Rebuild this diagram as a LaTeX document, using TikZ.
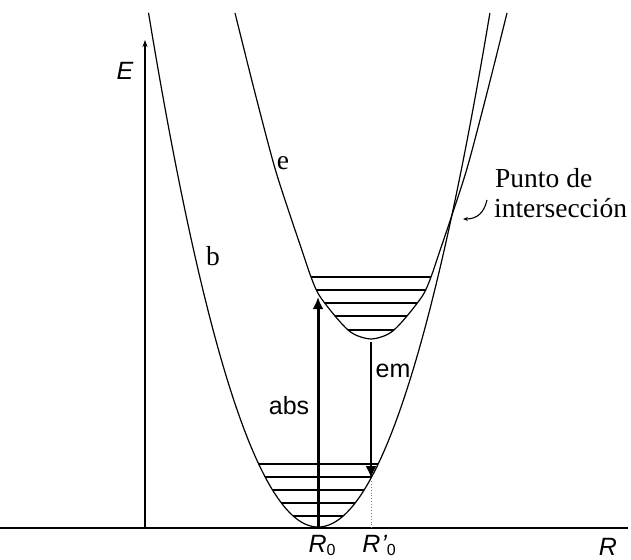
\documentclass[tikz,border=0pt]{standalone}
\usepackage{fontspec}
\setmainfont{Liberation Serif}
\setsansfont{Liberation Sans}
\usetikzlibrary{arrows.meta}
\newcommand{\lowsub}[1]{\raisebox{-3pt}{\fontsize{16}{16}\selectfont\upshape #1}}
\begin{document}
\begin{tikzpicture}[x=1pt,y=-1pt,
  curve/.style={line width=1.2pt},
  lvl/.style={line width=1.1pt},
  axis/.style={line width=1.3pt},
  sanslbl/.style={font=\sffamily\fontsize{25}{28}\selectfont, inner sep=0pt},
  seriflbl/.style={font=\rmfamily\fontsize{27.5}{30}\selectfont, inner sep=0pt},
]
\useasboundingbox (0,0) rectangle (631,559);
% axes
\coordinate (bl) at (0,528);
\coordinate (br) at (628,528);
\draw[axis] (bl) -- (br);
\coordinate (eo) at (145,528);
\coordinate (et) at (145,40);
\draw[axis,-{Stealth[length=7pt,width=5pt]}] (eo) -- (et);
% ground state curve b
\draw[curve] plot[domain=148.5:318, samples=90] (\x,{527-0.0179*(\x-318)*(\x-318)})
  -- plot[domain=318:489.9, samples=90] (\x,{527-0.0174*(\x-318)*(\x-318)});
% excited state curve e
\draw[curve] plot[smooth] coordinates {(235,13) (254,89) (274,165) (289,212) (301.5,249) (311,277) (319,295) (335,316) (348,330) (358,336) (371,339) (384,336) (394,330) (407,316) (423,295) (431,277) (440.5,249) (453,212) (468,165) (488,89) (507,13)};
% vibrational levels, ground
\foreach \yy/\l/\r in {464/258.7/378.2, 477/265.2/371.6, 490/272.5/364.1, 503/281.4/355.1, 516/293.2/343.1}
  \draw[lvl] (\l,\yy) -- (\r,\yy);
% vibrational levels, excited
\foreach \yy/\l/\r in {277/311/431, 290/316/426, 303/325/417, 316/335/407, 330/348/394}
  \draw[lvl] (\l,\yy) -- (\r,\yy);
% absorption
\coordinate (absS) at (318,528);
\coordinate (absE) at (318,297);
\draw[line width=3pt,-{Latex[length=12pt,width=11pt]}] (absS) -- (absE);
% emission
\coordinate (emS) at (371,342);
\coordinate (emE) at (371,478);
\coordinate (emB) at (371,528);
\draw[line width=2pt,-{Latex[length=12pt,width=11pt]}] (emS) -- (emE);
\draw[gray,dotted,line width=0.9pt] (emE) -- (emB);
% hook arrow to intersection
\coordinate (hk1) at (487,200);
\coordinate (hk2) at (463,219);
\draw[line width=1.1pt,-{Stealth[length=5pt,width=4pt]}] (hk1) .. controls (484,213) and (477,219) .. (hk2);
% labels
\node[sanslbl] (lE) at (125,71) {\itshape E};
\node[seriflbl] (le) at (283,163) {e};
\node[seriflbl] (lb) at (213,256) {b};
\node[sanslbl] (labs) at (289,406) {abs};
\node[sanslbl] (lem) at (393,371) {em};
\node[sanslbl, anchor=base] (lR0) at (322,552) {\itshape R\lowsub{0}};
\node[sanslbl, anchor=base] (lR0p) at (379,552) {\itshape R\kern1pt'\lowsub{0}};
\node[sanslbl, anchor=base] (lR) at (608,555) {\itshape R};
\node[seriflbl, anchor=base west] (lp1) at (495,187) {Punto de};
\node[seriflbl, anchor=base west] (lp2) at (494,217) {intersección};
\end{tikzpicture}
\end{document}
